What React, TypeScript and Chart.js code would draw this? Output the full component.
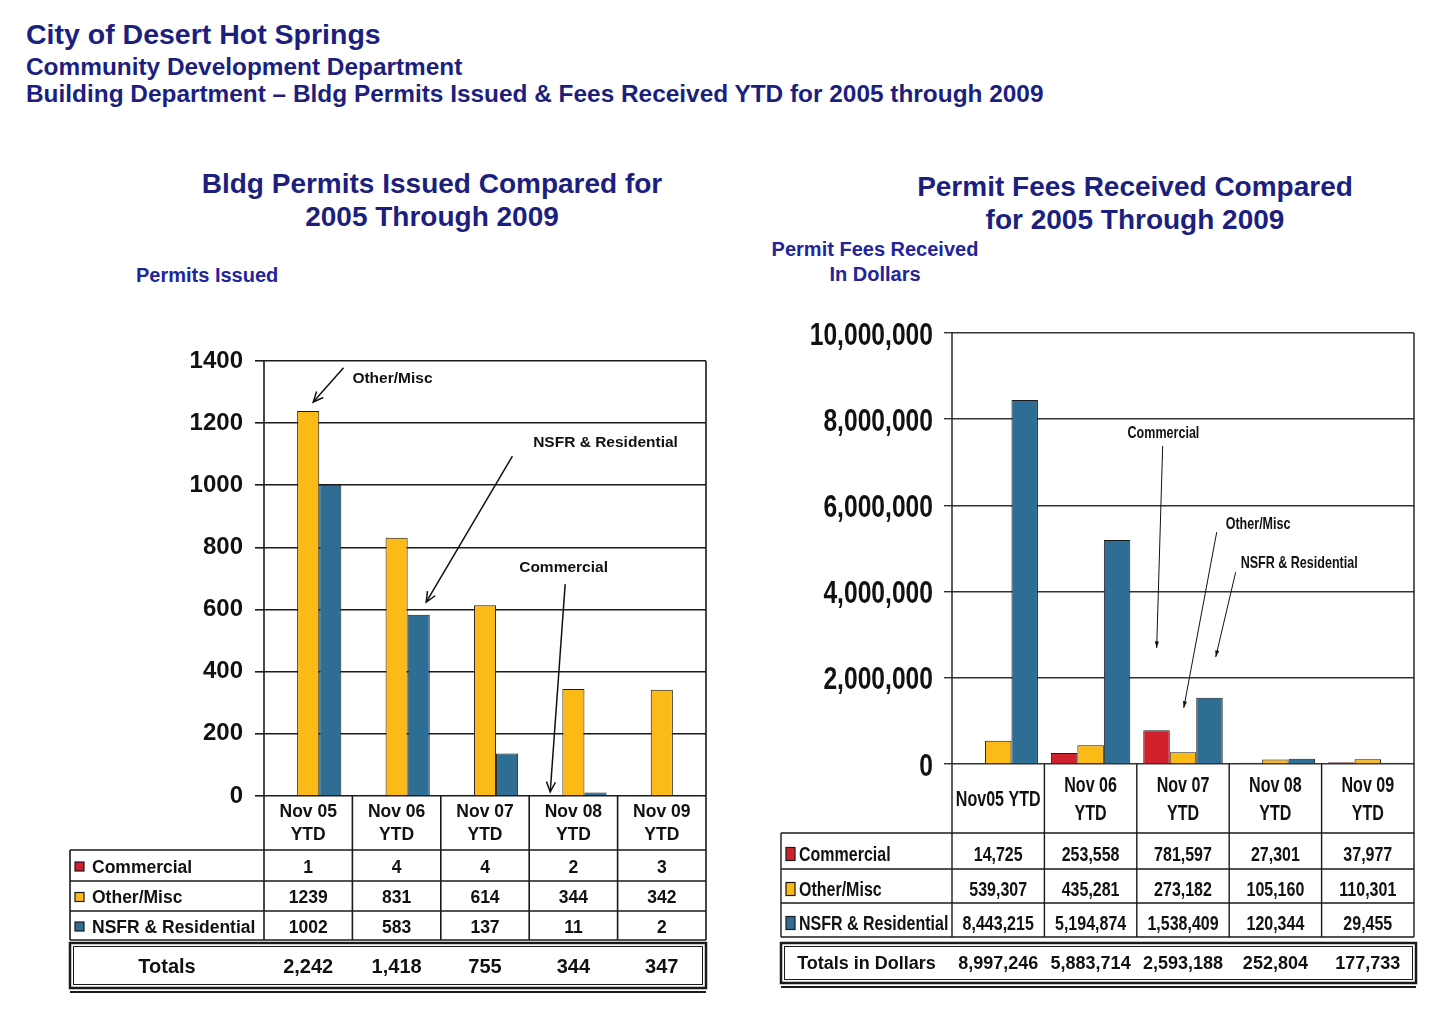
import React, { useEffect, useRef } from 'react';
import { Chart, registerables } from 'chart.js';

Chart.register(...registerables);

// ---------------- data ----------------
const seriesNames = ['Commercial', 'Other/Misc', 'NSFR & Residential'];

const permitCategories = [['Nov 05', 'YTD'], ['Nov 06', 'YTD'], ['Nov 07', 'YTD'], ['Nov 08', 'YTD'], ['Nov 09', 'YTD']];
const permitCommercial = [1, 4, 4, 2, 3];
const permitOther = [1239, 831, 614, 344, 342];
const permitNSFR = [1002, 583, 137, 11, 2];
const permitTotals = [2242, 1418, 755, 344, 347];
const permitAxis = { min: 0, max: 1400, step: 200 };

const feeCategories = [['Nov05 YTD'], ['Nov 06', 'YTD'], ['Nov 07', 'YTD'], ['Nov 08', 'YTD'], ['Nov 09', 'YTD']];
const feeCommercial = [14725, 253558, 781597, 27301, 37977];
const feeOther = [539307, 435281, 273182, 105160, 110301];
const feeNSFR = [8443215, 5194874, 1538409, 120344, 29455];
const feeTotals = [8997246, 5883714, 2593188, 252804, 177733];
const feeAxis = { min: 0, max: 10000000, step: 2000000 };

// callouts, in data units: [category index, value]
const permitNotes = [
  { text: 'Other/Misc', at: [0.5, 1329], from: [0.4, 1378], to: [0.057, 1268] },
  { text: 'NSFR & Residential', at: [2.545, 1123], from: [2.31, 1094], to: [1.335, 624] },
  { text: 'Commercial', at: [2.387, 721], from: [2.907, 682], to: [2.738, 13] },
];
const feeNotes = [
  { text: 'Commercial', at: [1.4, 7560000], from: [1.78, 7380000], to: [1.715, 2690000] },
  { text: 'Other/Misc', at: [2.462, 5450000], from: [2.365, 5380000], to: [2.008, 1300000] },
  { text: 'NSFR & Residential', at: [2.624, 4550000], from: [2.57, 4450000], to: [2.354, 2480000] },
];

// ---------------- styles ----------------
const RED = '#D0202C';
const YELLOW = '#FBBA16';
const BLUE = '#2E6E95';
const colors = [RED, YELLOW, BLUE];
const SANS = '"Liberation Sans", Arial, Helvetica, sans-serif';
const NAVY = '#1c1f7e';

const fmt = (v: number) => v.toLocaleString('en-US');

function sText(ctx: CanvasRenderingContext2D, s: string, x: number, y: number, sx: number, align: CanvasTextAlign) {
  ctx.save();
  ctx.translate(x, y);
  ctx.scale(sx, 1);
  ctx.textAlign = align;
  ctx.fillText(s, 0, 0);
  ctx.restore();
}

function drawArrow(ctx: CanvasRenderingContext2D, x1: number, y1: number, x2: number, y2: number, head: number, open: boolean) {
  ctx.beginPath();
  ctx.moveTo(x1, y1);
  ctx.lineTo(x2, y2);
  ctx.stroke();
  const a = Math.atan2(y2 - y1, x2 - x1);
  const spread = open ? 0.42 : 0.3;
  const p1 = [x2 - head * Math.cos(a - spread), y2 - head * Math.sin(a - spread)];
  const p2 = [x2 - head * Math.cos(a + spread), y2 - head * Math.sin(a + spread)];
  ctx.beginPath();
  ctx.moveTo(p1[0], p1[1]);
  ctx.lineTo(x2, y2);
  ctx.lineTo(p2[0], p2[1]);
  if (open) {
    ctx.stroke();
  } else {
    ctx.closePath();
    ctx.fill();
  }
}

type TableSpec = {
  header: string[][];
  headerH: number;
  headerGap: number;
  headerFont: string;
  headerSx: number;
  rowH: number[];
  labelLeft: number;
  labelFont: string;
  labelFontSize: number;
  valueFont: string;
  sx: number;
  square: [number, number];
  squareX: number;
  textX: number;
  textDy: number;
  values: number[][];
  valueFmt: (v: number) => string;
  totalsLabel: string;
  totals: number[];
  totalsFont: string;
  totalsFontSize: number;
  totalsGap: number;
  totalsH: number;
  totalsRightExtra: number;
  underGap: number;
  lineWidth: number;
  notes: { text: string; at: number[]; from: number[]; to: number[] }[];
  noteFont: string;
  noteSx: number;
  noteLineWidth: number;
  noteHead: number;
  noteOpen: boolean;
  yLabels?: { font: string; size: number; sx: number; gap: number; fmt: (v: number) => string };
};

function drawTable(chart: any, t: TableSpec) {
  const ctx: CanvasRenderingContext2D = chart.ctx;
  const ca = chart.chartArea;
  const xs = chart.scales.x;
  const ys = chart.scales.y;
  const n = t.header.length;
  const colW = (ca.right - ca.left) / n;
  const headTop = ca.bottom;
  const rowsTop = headTop + t.headerH;
  const rowYs = [rowsTop];
  t.rowH.forEach((h) => rowYs.push(rowYs[rowYs.length - 1] + h));
  const tableBottom = rowYs[rowYs.length - 1];

  ctx.save();
  ctx.strokeStyle = '#1a1a1a';
  ctx.lineWidth = t.lineWidth;
  ctx.beginPath();
  [ca.left, ca.right].forEach((x) => {
    ctx.moveTo(x, ca.top);
    ctx.lineTo(x, tableBottom);
  });
  for (let i = 1; i < n; i++) {
    const x = ca.left + i * colW;
    ctx.moveTo(x, headTop);
    ctx.lineTo(x, tableBottom);
  }
  ctx.moveTo(t.labelLeft, rowsTop);
  ctx.lineTo(t.labelLeft, tableBottom);
  rowYs.forEach((y) => {
    ctx.moveTo(t.labelLeft, y);
    ctx.lineTo(ca.right, y);
  });
  ctx.stroke();

  ctx.fillStyle = '#111';

  // y tick labels (drawn from the scale's own ticks)
  if (t.yLabels) {
    const yl = t.yLabels;
    ctx.font = yl.font;
    ctx.textBaseline = 'alphabetic';
    ys.ticks.forEach((tk: any) => {
      const py = ys.getPixelForValue(tk.value);
      sText(ctx, yl.fmt(tk.value), ca.left - yl.gap, py + yl.size * 0.36, yl.sx, 'right');
    });
  }

  // header
  ctx.textBaseline = 'middle';
  ctx.font = t.headerFont;
  t.header.forEach((lines, i) => {
    const cx = xs.getPixelForValue(i);
    const cy = headTop + t.headerH / 2 + 1;
    lines.forEach((s, k) => sText(ctx, s, cx, cy + (k - (lines.length - 1) / 2) * t.headerGap, t.headerSx, 'center'));
  });

  // rows
  ctx.textBaseline = 'alphabetic';
  seriesNames.forEach((name, r) => {
    const cy = (rowYs[r] + rowYs[r + 1]) / 2 + t.textDy;
    const base = cy + t.labelFontSize * 0.36;
    const [sw, sh] = t.square;
    ctx.fillStyle = colors[r];
    ctx.fillRect(t.labelLeft + t.squareX, cy - sh / 2, sw, sh);
    ctx.lineWidth = 1.2;
    ctx.strokeRect(t.labelLeft + t.squareX, cy - sh / 2, sw, sh);
    ctx.fillStyle = '#111';
    ctx.font = t.labelFont;
    sText(ctx, name, t.labelLeft + t.textX, base, t.sx, 'left');
    ctx.font = t.valueFont;
    t.values[r].forEach((v, i) => sText(ctx, t.valueFmt(v), xs.getPixelForValue(i), base, t.sx, 'center'));
  });

  // totals box
  const bt = tableBottom + t.totalsGap;
  const bw = ca.right + t.totalsRightExtra - t.labelLeft;
  ctx.lineWidth = 2.5;
  ctx.strokeRect(t.labelLeft, bt, bw, t.totalsH);
  ctx.lineWidth = 1;
  ctx.strokeRect(t.labelLeft + 3.5, bt + 3.5, bw - 7, t.totalsH - 7);
  const tb = bt + t.totalsH / 2 + t.totalsFontSize * 0.36;
  ctx.font = t.totalsFont;
  ctx.textAlign = 'center';
  ctx.fillText(t.totalsLabel, (t.labelLeft + ca.left) / 2, tb);
  t.totals.forEach((v, i) => ctx.fillText(fmt(v), xs.getPixelForValue(i), tb));
  ctx.lineWidth = 2.2;
  ctx.beginPath();
  ctx.moveTo(t.labelLeft, bt + t.totalsH + t.underGap);
  ctx.lineTo(ca.right + t.totalsRightExtra, bt + t.totalsH + t.underGap);
  ctx.stroke();

  // callouts
  ctx.font = t.noteFont;
  ctx.fillStyle = '#111';
  ctx.strokeStyle = '#111';
  ctx.lineWidth = t.noteLineWidth;
  t.notes.forEach((nt) => {
    sText(ctx, nt.text, xs.getPixelForValue(nt.at[0]), ys.getPixelForValue(nt.at[1]), t.noteSx, 'left');
    drawArrow(
      ctx,
      xs.getPixelForValue(nt.from[0]), ys.getPixelForValue(nt.from[1]),
      xs.getPixelForValue(nt.to[0]), ys.getPixelForValue(nt.to[1]),
      t.noteHead, t.noteOpen
    );
  });
  ctx.restore();
}

type PanelProps = {
  left: number; top: number; width: number; height: number;
  areaLeft: number; areaTop: number; areaRight: number; areaBottom: number;
  labels: string[][];
  data: number[][];
  axis: { min: number; max: number; step: number };
  tickFont: { family: string; size: number };
  tickFmt: (v: number) => string;
  tickColor: string;
  tickLength: number; tickPad: number;
  gridColor: string; gridWidth: number;
  catPct: number;
  table: TableSpec;
};

function Panel(p: PanelProps) {
  const ref = useRef<HTMLCanvasElement | null>(null);
  useEffect(() => {
    if (!ref.current) return;
    const chart = new Chart(ref.current, {
      type: 'bar',
      data: {
        labels: p.labels.map((l) => l.join(' ')),
        datasets: seriesNames.map((name, i) => ({
          label: name,
          data: p.data[i],
          backgroundColor: colors[i],
          borderColor: '#1a1a1a',
          borderWidth: 1,
          barPercentage: 1,
          categoryPercentage: p.catPct,
        })),
      },
      options: {
        animation: false,
        responsive: false,
        events: [],
        layout: {
          padding: {
            left: 0,
            top: p.areaTop - p.top,
            right: p.left + p.width - p.areaRight,
            bottom: p.top + p.height - p.areaBottom,
          },
        },
        plugins: { legend: { display: false }, tooltip: { enabled: false } },
        scales: {
          x: { display: false },
          y: {
            min: p.axis.min,
            max: p.axis.max,
            afterFit: (s: any) => { s.width = p.areaLeft - p.left; },
            ticks: {
              stepSize: p.axis.step,
              padding: p.tickPad,
              color: p.tickColor,
              font: { family: p.tickFont.family, size: p.tickFont.size, weight: 'bold' },
              callback: (v: any) => p.tickFmt(Number(v)),
            },
            grid: { color: p.gridColor, lineWidth: p.gridWidth, tickLength: p.tickLength, drawTicks: true },
            border: { display: false },
          },
        },
      },
      plugins: [{ id: 'tablePlugin', afterDraw: (c: any) => drawTable(c, p.table) }],
    } as any);
    return () => chart.destroy();
  }, []);
  return (
    <canvas
      ref={ref}
      width={p.width}
      height={p.height}
      style={{ position: 'absolute', left: p.left, top: p.top, width: p.width, height: p.height }}
    />
  );
}

const textStyle = (left: number, top: number, size: number, extra: any = {}) => ({
  position: 'absolute' as const,
  left,
  top,
  fontFamily: SANS,
  fontWeight: 'bold' as const,
  fontSize: size,
  lineHeight: 1,
  color: NAVY,
  whiteSpace: 'nowrap' as const,
  ...extra,
});

export default function App() {
  const leftTable: TableSpec = {
    header: permitCategories,
    headerH: 54,
    headerGap: 23,
    headerFont: `bold 17.5px ${SANS}`,
    headerSx: 1,
    rowH: [31, 30, 29],
    labelLeft: 70,
    labelFont: `bold 17.5px ${SANS}`,
    labelFontSize: 17.5,
    valueFont: `bold 17.5px ${SANS}`,
    sx: 1,
    square: [9, 9],
    squareX: 5,
    textX: 22,
    textDy: 1,
    values: [permitCommercial, permitOther, permitNSFR],
    valueFmt: (v) => String(v),
    totalsLabel: 'Totals',
    totals: permitTotals,
    totalsFont: `bold 20px ${SANS}`,
    totalsFontSize: 20,
    totalsGap: 3,
    totalsH: 45,
    totalsRightExtra: 0,
    underGap: 4,
    lineWidth: 1.6,
    notes: permitNotes,
    noteFont: `bold 15.5px ${SANS}`,
    noteSx: 1,
    noteLineWidth: 1.5,
    noteHead: 11,
    noteOpen: true,
  };
  const rightTable: TableSpec = {
    header: feeCategories,
    headerH: 69,
    headerGap: 28,
    headerFont: `bold 22px ${SANS}`,
    headerSx: 0.73,
    rowH: [36, 34, 34],
    labelLeft: 781 - 740,
    labelFont: `bold 20px ${SANS}`,
    labelFontSize: 20,
    valueFont: `bold 20px ${SANS}`,
    sx: 0.8,
    square: [9, 13],
    squareX: 5,
    textX: 18,
    textDy: 3,
    values: [feeCommercial, feeOther, feeNSFR],
    valueFmt: fmt,
    totalsLabel: 'Totals in Dollars',
    totals: feeTotals,
    totalsFont: `bold 18px ${SANS}`,
    totalsFontSize: 18,
    totalsGap: 6,
    totalsH: 40,
    totalsRightExtra: 2,
    underGap: 4,
    lineWidth: 1.4,
    notes: feeNotes,
    noteFont: `bold 16.5px ${SANS}`,
    noteSx: 0.76,
    noteLineWidth: 1,
    noteHead: 7,
    noteOpen: false,
    yLabels: { font: `bold 32px ${SANS}`, size: 32, sx: 0.77, gap: 19, fmt },
  };

  return (
    <div style={{ position: 'absolute', left: 0, top: 0, width: 1450, height: 1015, background: '#fff', overflow: 'hidden' }}>
      <div style={textStyle(26, 20, 28.5)}>City of Desert Hot Springs</div>
      <div style={textStyle(26, 55, 24.4)}>Community Development Department</div>
      <div style={textStyle(26, 82, 24.4)}>Building Department – Bldg Permits Issued &amp; Fees Received YTD for 2005 through 2009</div>

      <div style={textStyle(132, 167, 28, { width: 600, textAlign: 'center', lineHeight: '33px' })}>
        Bldg Permits Issued Compared for<br />2005 Through 2009
      </div>
      <div style={textStyle(835, 170, 28, { width: 600, textAlign: 'center', lineHeight: '33px' })}>
        Permit Fees Received Compared<br />for 2005 Through 2009
      </div>
      <div style={textStyle(136, 265, 20, { color: '#24249a' })}>Permits Issued</div>
      <div style={textStyle(725, 237, 20, { width: 300, textAlign: 'center', lineHeight: '25px', color: '#24249a' })}>
        Permit Fees Received<br />In Dollars
      </div>

      <Panel
        left={0} top={330} width={720} height={680}
        areaLeft={264} areaTop={361} areaRight={706} areaBottom={796}
        labels={permitCategories}
        data={[permitCommercial, permitOther, permitNSFR]}
        axis={permitAxis}
        tickFont={{ family: SANS, size: 24 }}
        tickFmt={(v) => String(v)}
        tickColor="#111"
        tickLength={9} tickPad={12}
        gridColor="#1a1a1a" gridWidth={1.6}
        catPct={0.75}
        table={leftTable}
      />
      <Panel
        left={740} top={300} width={710} height={710}
        areaLeft={952} areaTop={333} areaRight={1414} areaBottom={764}
        labels={feeCategories}
        data={[feeCommercial, feeOther, feeNSFR]}
        axis={feeAxis}
        tickFont={{ family: SANS, size: 20 }}
        tickFmt={fmt}
        tickColor="rgba(0,0,0,0)"
        tickLength={8} tickPad={12}
        gridColor="#333" gridWidth={1.4}
        catPct={0.86}
        table={rightTable}
      />
    </div>
  );
}
